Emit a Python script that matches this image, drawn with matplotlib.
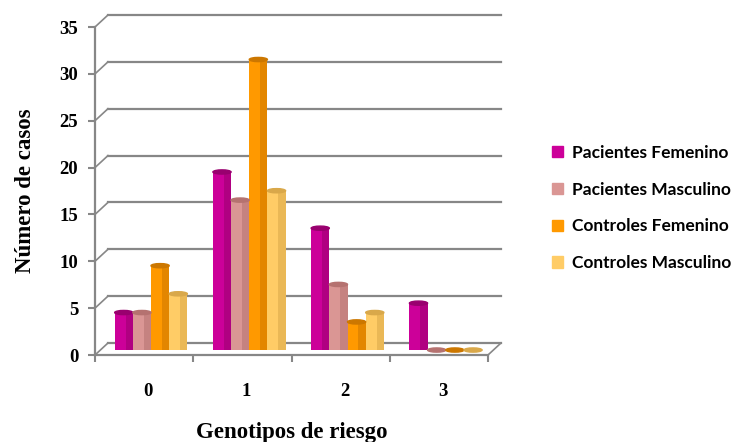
import matplotlib.pyplot as plt
from matplotlib.patches import Ellipse, Patch
import numpy as np

categories = ["0", "1", "2", "3"]
series_names = ["Pacientes Femenino", "Pacientes Masculino",
                "Controles Femenino", "Controles Masculino"]
pac_fem = [4, 19, 13, 5]
pac_mas = [4, 16, 7, 0]
con_fem = [9, 31, 3, 0]
con_mas = [6, 17, 4, 0]

colors = ["#CC0099", "#DA9694", "#FF9900", "#FFCC66"]
shades = ["#99006F", "#B57270", "#CC7700", "#D9A84A"]
grid_col = "#878787"

W, H = 735, 442
fig = plt.figure(figsize=(W / 100, H / 100), dpi=100)
ax = fig.add_axes([95 / W, (H - 355) / H, (488 - 95) / W, (355 - 27) / H])
ax.set_xlim(-0.5, 3.5)
ax.set_ylim(0, 35)

# depth offset of the back wall, in data units
DX, DY = 0.132, 1.28
# bars sit half way into the depth
BX, BY = 0.07, 0.53

for v in range(0, 36, 5):
    ax.plot([-0.5 + DX, 3.5 + DX], [v + DY, v + DY], color=grid_col, lw=1.6,
            clip_on=False, zorder=1)
    ax.plot([-0.5, -0.5 + DX], [v, v + DY], color=grid_col, lw=1.2,
            clip_on=False, zorder=1)
ax.plot([3.5, 3.5 + DX], [0, DY], color=grid_col, lw=1.2, clip_on=False, zorder=1)

x = np.arange(len(categories))
bw = 0.185
data = [pac_fem, pac_mas, con_fem, con_mas]
for i, vals in enumerate(data):
    xs = x + BX + (i - 1.5) * bw
    ax.bar(xs, vals, bw, bottom=BY, color=colors[i], zorder=3)
    # darker right side to give the bars some roundness
    ax.bar(xs + bw * 0.3, vals, bw * 0.4, bottom=BY, color=shades[i],
           alpha=0.55, zorder=4, linewidth=0)
    for xx, v in zip(xs, vals):
        ax.add_patch(Ellipse((xx, v + BY), bw, 0.45, color=shades[i],
                             zorder=5, clip_on=False))

for s in ["top", "right"]:
    ax.spines[s].set_visible(False)
for s in ["left", "bottom"]:
    ax.spines[s].set_color(grid_col)
    ax.spines[s].set_linewidth(1.6)

ax.set_yticks(range(0, 36, 5))
ax.tick_params(axis="y", length=5, width=1.5, color=grid_col, pad=7,
               labelsize=13.5)
ax.set_xticks(x + 0.04)
ax.set_xticklabels(categories)
ax.set_xticks(np.arange(-0.5, 4, 1), minor=True)
ax.tick_params(axis="x", which="major", length=0, pad=20, labelsize=13.5)
ax.tick_params(axis="x", which="minor", length=5, width=1.5, color=grid_col)
for lab in ax.get_xticklabels() + ax.get_yticklabels():
    lab.set_fontfamily("Liberation Serif")
    lab.set_fontweight("bold")

ax.set_ylabel("Número de casos", fontsize=16.5, fontweight="bold",
              family="Liberation Serif", labelpad=17)
ax.set_xlabel("Genotipos de riesgo", fontsize=16.5, fontweight="bold",
              family="Liberation Serif", labelpad=16)

handles = [Patch(color=c) for c in colors]
fig.legend(handles, series_names, loc="center left",
           bbox_to_anchor=(536 / W, 1 - 208 / H), frameon=False,
           prop={"family": "Lato", "weight": "bold", "size": 12.5},
           handlelength=0.65, handleheight=0.65, handletextpad=0.55,
           labelspacing=1.2)

fig.savefig("out.png", dpi=100)
